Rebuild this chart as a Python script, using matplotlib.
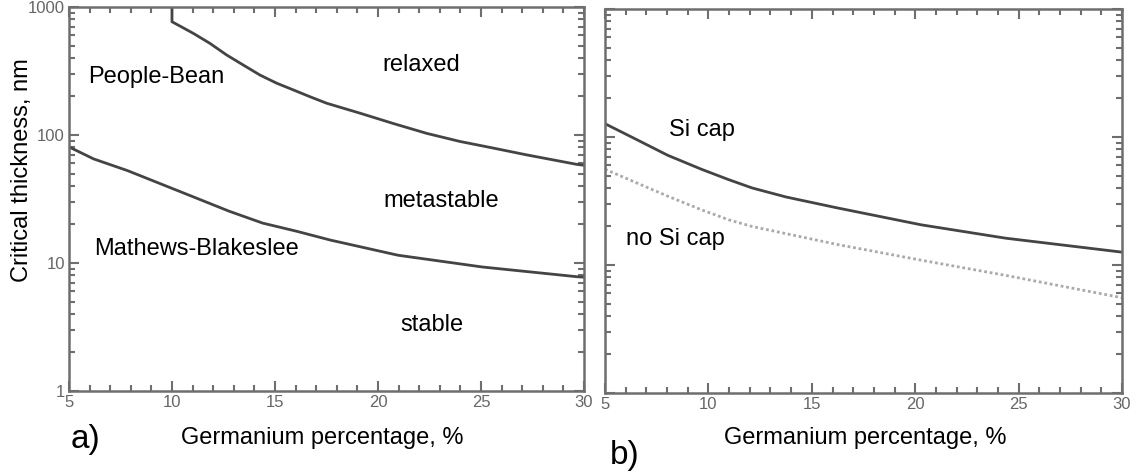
import numpy as np
import matplotlib.pyplot as plt
from matplotlib.ticker import MultipleLocator, LogLocator, NullFormatter, FixedLocator

plt.rcParams['font.family'] = ['Liberation Sans', 'DejaVu Sans']

# Panel a) critical thickness curves (read off the picture)
pb_x = [10, 10, 11.03, 11.84, 12.65, 13.46, 14.27, 15.08, 15.89, 16.70, 17.51,
        19.13, 20.74, 22.36, 23.98, 25.6, 27.2, 29.64, 30]
pb_y = [1000, 767, 623, 520, 422, 352, 294, 254, 225, 199, 177,
        148, 123, 103, 89, 79, 70, 59, 58]
mb_x = [5, 6.2, 7.84, 11.13, 12.77, 14.4, 16.05, 17.69, 20.97, 25.08, 29.7, 30]
mb_y = [80.7, 65, 52.7, 32.4, 25.4, 20.5, 17.7, 15.1, 11.5, 9.3, 7.8, 7.75]

# Panel b) with / without Si cap
cap_x = [5, 6.39, 8.03, 9.66, 10.97, 12.11, 13.75, 16.2, 20.29, 24.37, 30]
cap_y = [127, 98, 72, 56, 46.5, 40, 34, 28, 20.6, 16.2, 12.6]
nocap_x = [5, 6.5, 8.03, 9.66, 11.0, 12.11, 16.2, 20.29, 24.37, 30]
nocap_y = [56, 44, 34.5, 27, 22.5, 20, 14.5, 10.9, 8.3, 5.55]

xticks = [5, 10, 15, 20, 25, 30]
yticks = [1, 10, 100, 1000]

spine_col = '#6e6e6e'
line_col = '#444444'
fs = 17

fig = plt.figure(figsize=(11.42, 4.72), dpi=100)
ax1 = fig.add_axes([0.0604, 0.1716, 0.4510, 0.8136])
ax2 = fig.add_axes([0.5298, 0.1674, 0.4527, 0.8135])


def style(ax, ylabels=True):
    ax.set_yscale('log')
    ax.set_xlim(5, 30)
    ax.set_ylim(1, 1000)
    ax.xaxis.set_major_locator(FixedLocator(xticks))
    ax.xaxis.set_minor_locator(MultipleLocator(1))
    ax.yaxis.set_major_locator(FixedLocator(yticks))
    ax.yaxis.set_minor_locator(LogLocator(base=10, subs=np.arange(2, 10)))
    ax.yaxis.set_minor_formatter(NullFormatter())
    if ylabels:
        ax.set_yticklabels([str(t) for t in yticks])
    else:
        ax.set_yticklabels([])
    ax.set_xticklabels([str(t) for t in xticks])
    ax.tick_params(which='both', direction='in', top=True, right=True,
                   color=spine_col, width=1.5, labelcolor='#666666',
                   labelsize=12, pad=3)
    ax.tick_params(which='major', length=7)
    ax.tick_params(which='minor', length=4)
    for s in ax.spines.values():
        s.set_color(spine_col)
        s.set_linewidth(1.8)


style(ax1)
style(ax2, ylabels=False)

ax1.plot(pb_x, pb_y, color=line_col, lw=2)
ax1.plot(mb_x, mb_y, color=line_col, lw=2)
ax1.text(5.92, 283, 'People-Bean', fontsize=fs, va='center')
ax1.text(22.1, 352, 'relaxed', fontsize=fs, ha='center', va='center')
ax1.text(23.06, 30.5, 'metastable', fontsize=fs, ha='center', va='center')
ax1.text(6.2, 12.9, 'Mathews-Blakeslee', fontsize=fs, va='center')
ax1.text(22.6, 3.3, 'stable', fontsize=fs, ha='center', va='center')

ax2.plot(cap_x, cap_y, color=line_col, lw=2)
ax2.plot(nocap_x, nocap_y, color='#aaaaaa', lw=2, ls=(0, (1, 1)))
ax2.text(8.09, 113, 'Si cap', fontsize=fs, va='center')
ax2.text(6.03, 16.1, 'no Si cap', fontsize=fs, va='center')

fig.text(0.019, 0.64, 'Critical thickness, nm', rotation=90, fontsize=fs,
         ha='center', va='center')
fig.text(0.2825, 0.073, 'Germanium percentage, %', fontsize=fs,
         ha='center', va='center')
fig.text(0.758, 0.073, 'Germanium percentage, %', fontsize=fs,
         ha='center', va='center')
fig.text(0.062, 0.068, 'a)', fontsize=24, ha='left', va='center')
fig.text(0.534, 0.036, 'b)', fontsize=24, ha='left', va='center')

fig.savefig('out.png', dpi=100)
